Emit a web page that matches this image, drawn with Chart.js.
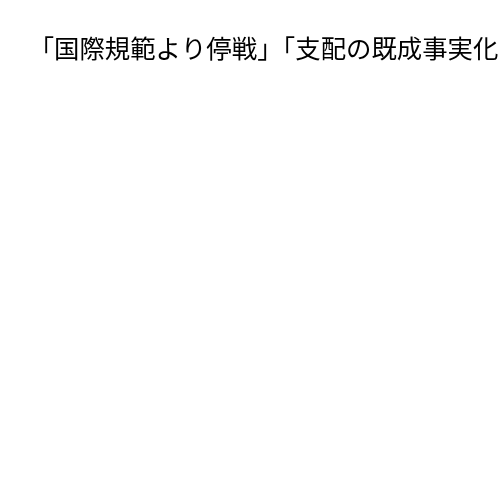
<!DOCTYPE html>
<html>
<head>
<meta charset="utf-8">
<script src="https://cdn.jsdelivr.net/npm/chart.js@4"></script>
<style>
  html, body { margin: 0; padding: 0; background: #fff; }
  #box { width: 500px; height: 500px; }
</style>
</head>
<body>
<div id="box"><canvas id="grafico"></canvas></div>
<script>
// the source chart has a title and no marks at all
var titulo = "「国際規範より停戦」「支配の既成事実化";
var categorias = [];
var valores = [];

var grafico = document.getElementById("grafico");
var myChart = new Chart(grafico, {
    type: 'bar',
    data: {
        labels: categorias,
        datasets: [{
            data: valores,
            backgroundColor: "#4e79a7"
        }]
    },
    options: {
        responsive: true,
        maintainAspectRatio: false,
        animation: false,
        layout: {
            padding: { top: 23, left: 27 }
        },
        plugins: {
            title: {
                display: true,
                position: 'top',
                align: 'center',
                text: titulo,
                color: '#000',
                font: { family: '"Noto Sans CJK JP"', size: 25.4, weight: 'normal' }
            },
            legend: { display: false },
            tooltip: { enabled: false }
        },
        scales: {
            x: { display: false },
            y: { display: false }
        }
    },
});
</script>
</body>
</html>
